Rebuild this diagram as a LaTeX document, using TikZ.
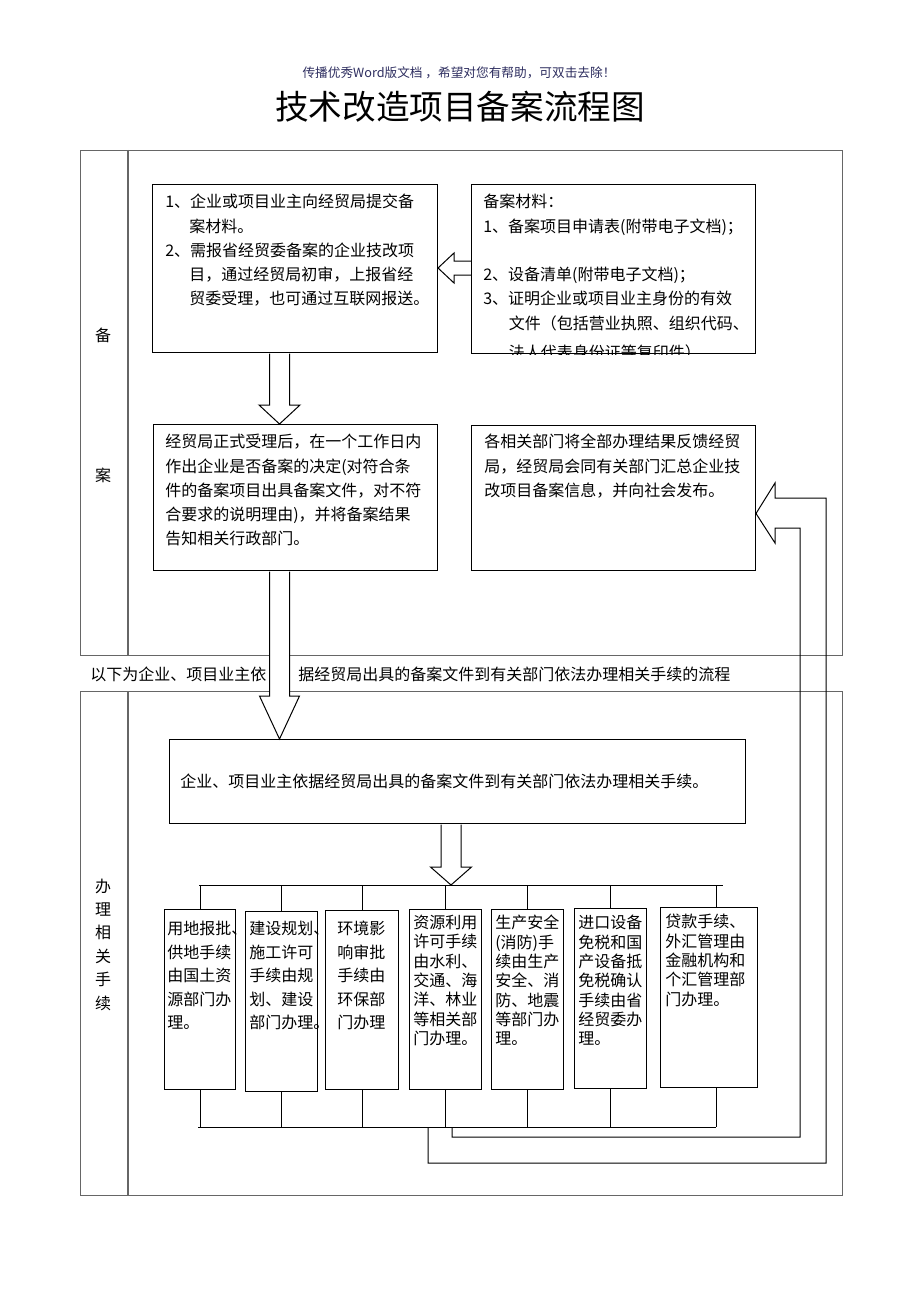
\documentclass[tikz,border=0pt]{standalone}
\usepackage{fontspec}
\setmainfont{Noto Sans CJK SC}
\usetikzlibrary{positioning,calc}

\newcommand{\pxl}{0.75pt}
\newcommand{\bodyfont}{\fontsize{12}{18.2}\selectfont}
\newcommand{\loosefont}{\fontsize{12}{17.6}\selectfont}
\newcommand{\tightfont}{\fontsize{12}{14.5}\selectfont}
\definecolor{notecolor}{RGB}{45,45,95}
% hollow block arrow pointing down: [style]{top}{tip}{shaft half width}{head half width}{head length}
\newcommand{\hollowdown}[6][]{%
  \draw[hollow,#1] ($(#2)+(-#4,0.6)$) -- ($(#3)+(-#4,-#6)$) -- ($(#3)+(-#5,-#6)$) -- (#3)
    -- ($(#3)+(#5,-#6)$) -- ($(#3)+(#4,-#6)$) -- ($(#2)+(#4,0.6)$);}

\tikzset{
  frame/.style={draw=black!60, line width=0.8pt, anchor=north west, inner sep=0pt},
  box/.style={draw, anchor=north west, inner sep=0pt, line width=0.75pt},
  txt/.style={anchor=north west, inner sep=0pt, align=left, font=\bodyfont},
  hollow/.style={draw, line width=0.75pt},
  link/.style={draw, line width=0.75pt},
}

\begin{document}
\begin{tikzpicture}[x=0.75pt,y=-0.75pt]
\useasboundingbox (0,0) rectangle (920,1302);

% heading
\node[text=notecolor] (note) at (459,73) {\fontsize{9.5}{11}\selectfont 传播优秀Word版文档 ，希望对您有帮助，可双击去除！};
\node (title) at (460,107) {\fontsize{25.2}{30}\selectfont 技术改造项目备案流程图};

% frames
\node[frame, minimum width=762*\pxl, minimum height=505*\pxl] (topframe) at (80,150) {};
\draw[frame] ($(topframe.north west)+(48,0)$) -- ($(topframe.south west)+(48,0)$);
\node[frame, minimum width=762*\pxl, minimum height=504*\pxl] (lowframe) at (80,691) {};
\draw[frame] ($(lowframe.north west)+(48,0)$) -- ($(lowframe.south west)+(48,0)$);
\node[font=\bodyfont] (lab1) at (103,335) {备};
\node[font=\bodyfont] (lab2) at (103,475) {案};
\node[align=center, font=\fontsize{12}{17.55}\selectfont] (lab3) at (103,944.5) {办\\理\\相\\关\\手\\续};
\node[anchor=west, inner sep=0pt, font=\bodyfont] (sepline) at (90,674)
  {以下为企业、项目业主依\hspace{2em}据经贸局出具的备案文件到有关部门依法办理相关手续的流程};

% upper boxes
\node[box, minimum width=285*\pxl, minimum height=168*\pxl] (boxA) at (152,184) {};
\node[box, minimum width=284*\pxl, minimum height=169*\pxl] (boxB) at (471,184) {};
\node[box, minimum width=284*\pxl, minimum height=146*\pxl] (boxC) at (153,424) {};
\node[box, minimum width=284*\pxl, minimum height=145*\pxl] (boxD) at (471,425) {};
\node[box, minimum width=576*\pxl, minimum height=84*\pxl] (boxE) at (169,739) {};

\node[txt] (txtA) at (165,194) {1、企业或项目业主向经贸局提交备\\
\hspace*{1.5em}案材料。\\
2、需报省经贸委备案的企业技改项\\
\hspace*{1.5em}目，通过经贸局初审，上报省经\\
\hspace*{1.5em}贸委受理，也可通过互联网报送。};
\begin{scope}
\clip (boxB.north west) rectangle (boxB.south east);
\node[txt] (txtB) at (483,194) {备案材料：\\
1、备案项目申请表(附带电子文档)；\\
\mbox{}\\
2、设备清单(附带电子文档)；\\
3、证明企业或项目业主身份的有效\\
\hspace*{1.6em}文件（包括营业执照、组织代码、\\[4pt]
\hspace*{1.6em}法人代表身份证等复印件）};
\end{scope}
\node[txt] (txtC) at (165,434) {经贸局正式受理后，在一个工作日内\\
作出企业是否备案的决定(对符合条\\
件的备案项目出具备案文件，对不符\\
合要求的说明理由)，并将备案结果\\
告知相关行政部门。};
\node[txt] (txtD) at (484,434) {各相关部门将全部办理结果反馈经贸\\
局，经贸局会同有关部门汇总企业技\\
改项目备案信息，并向社会发布。};
\node[anchor=west, inner sep=0pt, font=\bodyfont] (txtE) at (180,781)
  {企业、项目业主依据经贸局出具的备案文件到有关部门依法办理相关手续。};

% lower boxes
\node[box, minimum width=71*\pxl, minimum height=180*\pxl] (b1) at (164,909) {};
\node[box, minimum width=72*\pxl, minimum height=180*\pxl] (b2) at (245,911) {};
\node[box, minimum width=73*\pxl, minimum height=179*\pxl] (b3) at (325,910) {};
\node[box, minimum width=72*\pxl, minimum height=180*\pxl] (b4) at (409,909) {};
\node[box, minimum width=72*\pxl, minimum height=180*\pxl] (b5) at (491,909) {};
\node[box, minimum width=72*\pxl, minimum height=180*\pxl] (b6) at (574,908) {};
\node[box, minimum width=97*\pxl, minimum height=180*\pxl] (b7) at (660,907) {};

\node[txt, font=\loosefont] (t1) at (167,921) {用地报批、\\供地手续\\由国土资\\源部门办\\理。};
\node[txt, font=\loosefont] (t2) at (249,921) {建设规划、\\施工许可\\手续由规\\划、建设\\部门办理。};
\node[txt, font=\loosefont] (t3) at (337,921) {环境影\\响审批\\手续由\\环保部\\门办理};
\node[txt, font=\tightfont] (t4) at (413,915) {资源利用\\许可手续\\由水利、\\交通、海\\洋、林业\\等相关部\\门办理。};
\node[txt, font=\tightfont] (t5) at (495,915) {生产安全\\(消防)手\\续由生产\\安全、消\\防、地震\\等部门办\\理。};
\node[txt, font=\tightfont] (t6) at (578,915) {进口设备\\免税和国\\产设备抵\\免税确认\\手续由省\\经贸委办\\理。};
\node[txt, font=\tightfont] (t7) at (665,914) {贷款手续、\\外汇管理由\\金融机构和\\个汇管理部\\门办理。};

% buses
\coordinate (busTL) at (199,885);
\coordinate (busTR) at (723,885);
\coordinate (busBL) at (198,1127);
\coordinate (busBR) at (716,1127);
\draw[link] (busTL) -- (busTR);
\draw[link] (busBL) -- (busBR);
\foreach \b in {b1,b2,b3,b4,b5,b6} {
  \draw[link] (\b.north |- busTL) -- (\b.north);
  \draw[link] (\b.south) -- (\b.south |- busBL);
}
\coordinate (b7top) at ($(b7.north)+(7.5,0)$);
\coordinate (b7bot) at ($(b7.south)+(7.5,0)$);
\draw[link] (b7top |- busTL) -- (b7top);
\draw[link] (b7bot) -- (b7bot |- busBL);

% block arrows
\coordinate (colA) at (279.5,0);
\coordinate (colE) at (451,0);
\coordinate (rowAB) at (0,268);
\hollowdown{boxA.south -| colA}{boxC.north -| colA}{10}{20.5}{19}
\hollowdown[fill=white]{boxC.south -| colA}{boxE.north -| colA}{10}{20}{43}
\hollowdown{boxE.south -| colE}{busTL -| colE}{10}{20.5}{18}
\draw[hollow] ($(boxB.west |- rowAB)+(0,-7)$) -- ($(boxA.east |- rowAB)+(16,-7)$)
  -- ($(boxA.east |- rowAB)+(16,-15)$) -- (boxA.east |- rowAB)
  -- ($(boxA.east |- rowAB)+(16,15)$) -- ($(boxA.east |- rowAB)+(16,7)$)
  -- ($(boxB.west |- rowAB)+(0,7)$);

% feedback back to the right box
\coordinate (fbin) at (452,1127);
\coordinate (fbout) at (428,1127);
\coordinate (fbtip) at ($(boxD.east)+(0,15.5)$);
\draw[hollow] (fbin) |- (800,1137) -- (800,528) -- (775,528) -- (775,543) -- (fbtip)
  -- (775,483) -- (775,498) -- (826,498) -- (826,1163) -| (fbout);
\end{tikzpicture}
\end{document}
